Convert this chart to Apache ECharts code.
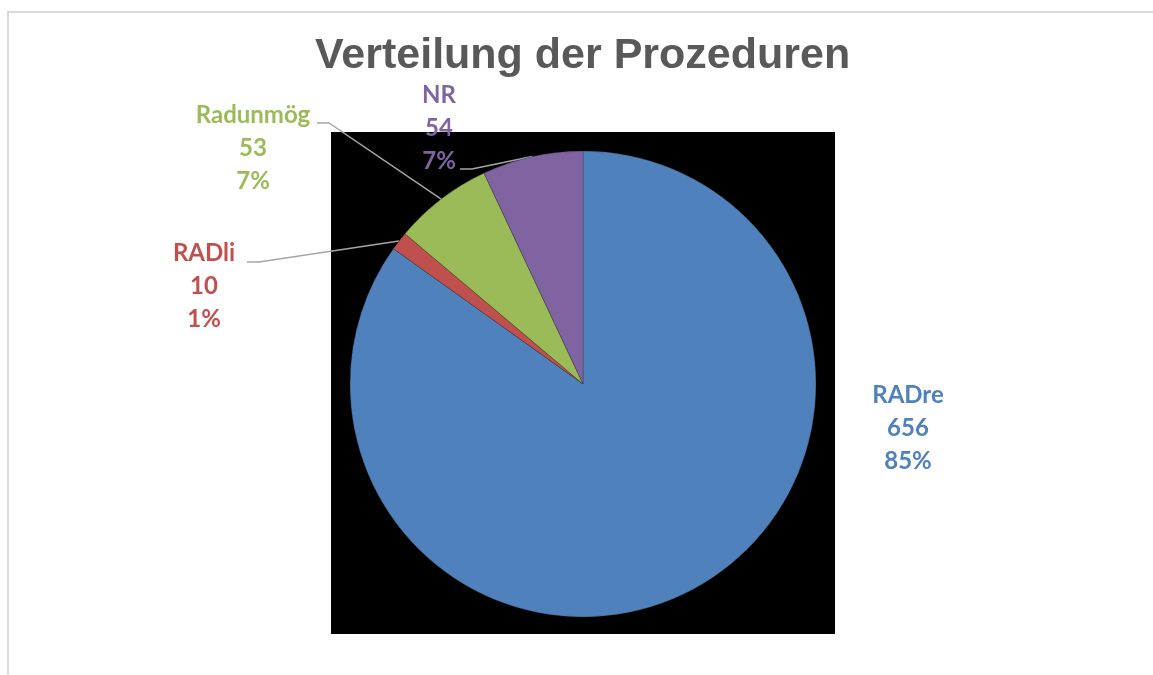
<!DOCTYPE html>
<html>
<head>
<meta charset="utf-8">
<script src="https://cdn.jsdelivr.net/npm/echarts@6/dist/echarts.min.js"></script>
<style>
  html, body { margin: 0; padding: 0; background: #fff; }
  #chart { width: 1153px; height: 675px; }
</style>
</head>
<body>
<div id="chart"></div>
<script>
const categories = ['RADre', 'RADli', 'Radunmög', 'NR']
const counts = [656, 10, 53, 54]
const colors = ['#4F81BD', '#C0504D', '#9BBB59', '#8064A2']

// wo die Beschriftungen stehen (Mitte des Textblocks, px)
const labelPos = [
  [908, 428],
  [204, 286],
  [253, 148],
  [439, 128]
]
// Ansatzpunkt der Führungslinie relativ zur Beschriftungsmitte
const lineAttach = [
  null,
  [43, -24],
  [64, -25],
  [21, 41]
]

const myChart = echarts.init(document.getElementById('chart'))

const total = counts.reduce((a, b) => a + b, 0)

const option = {
  backgroundColor: '#fff',
  title: {
    text: 'Verteilung der Prozeduren',
    left: 310,
    top: 30,
    textStyle: {
      fontFamily: 'Liberation Sans',
      fontWeight: 'bold',
      fontSize: 43,
      color: '#595959'
    }
  },
  graphic: [
    {
      type: 'rect',
      shape: { x: 8, y: 12, width: 1200, height: 700 },
      style: { fill: 'none', stroke: '#D9D9D9', lineWidth: 2 },
      z: -10
    },
    {
      type: 'rect',
      shape: { x: 331, y: 132, width: 504, height: 502 },
      style: { fill: '#000' },
      z: -5
    }
  ],
  series: [
    {
      type: 'pie',
      center: [583, 384],
      radius: 233,
      startAngle: 90,
      clockwise: true,
      silent: true,
      itemStyle: {
        borderColor: 'rgba(40,40,40,0.6)',
        borderWidth: 0.5
      },
      label: {
        show: true,
        position: 'outside',
        fontFamily: 'Lato',
        fontWeight: 'bold',
        fontSize: 24,
        lineHeight: 33,
        align: 'center',
        formatter: p => p.name + '\n' + p.value + '\n' + Math.round(p.value / total * 100) + '%'
      },
      labelLine: {
        show: true,
        length: 10,
        length2: 10,
        lineStyle: { color: '#A6A6A6', width: 1.5 }
      },
      labelLayout: params => {
        const i = params.dataIndex
        const pos = labelPos[i]
        const res = {
          x: pos[0],
          y: pos[1],
          align: 'center',
          verticalAlign: 'middle'
        }
        const att = lineAttach[i]
        if (att && params.labelLinePoints) {
          const anchor = params.labelLinePoints[0]
          const end = [pos[0] + att[0], pos[1] + att[1]]
          res.labelLinePoints = [anchor, [end[0] + 12, end[1]], end]
        }
        return res
      },
      data: categories.map((name, i) => ({
        name: name,
        value: counts[i],
        itemStyle: { color: colors[i] },
        label: { color: colors[i] },
        labelLine: { show: i !== 0 }
      }))
    }
  ]
}

myChart.setOption(option)
</script>
</body>
</html>
